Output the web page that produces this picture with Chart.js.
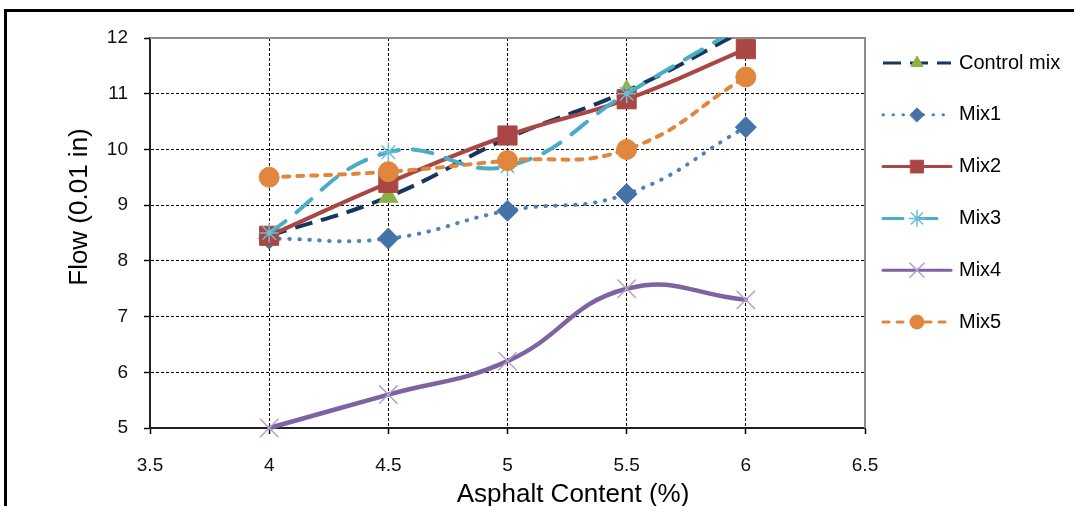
<!DOCTYPE html>
<html><head><meta charset="utf-8">
<script src="https://cdn.jsdelivr.net/npm/chart.js@4.4.1/dist/chart.umd.min.js"></script>
<style>html,body{margin:0;padding:0;background:#fff;}canvas{display:block;}</style>
</head><body>
<canvas id="c" width="1074" height="506"></canvas>
<script>
// ---- data ----
const xValues = [4, 4.5, 5, 5.5, 6];
const xTicks = [3.5, 4, 4.5, 5, 5.5, 6, 6.5];
const xTickLabels = ['3.5', '4', '4.5', '5', '5.5', '6', '6.5'];
const yTicks = [5, 6, 7, 8, 9, 10, 11, 12];
const yTickLabels = ['5', '6', '7', '8', '9', '10', '11', '12'];
const seriesNames = ['Control mix', 'Mix1', 'Mix2', 'Mix3', 'Mix4', 'Mix5'];
const controlMix = [8.45, 9.15, 10.2, 11.05, 12.15];
const mix1 = [8.4, 8.4, 8.9, 9.2, 10.4];
const mix2 = [8.45, 9.4, 10.25, 10.9, 11.8];
const mix3 = [8.5, 9.95, 9.7, 11.0, 12.25];
const mix4 = [5.0, 5.6, 6.2, 7.5, 7.3];
const mix5 = [9.5, 9.6, 9.8, 10.0, 11.3];
const xTitle = 'Asphalt Content (%)';
const yTitle = 'Flow (0.01 in)';

const FONT = '"Liberation Sans", Arial, sans-serif';
const seriesValues = [controlMix, mix1, mix2, mix3, mix4, mix5];

const styles = [
  {line:'#17365D', w:4, dash:[18,9], cap:'butt', ps:'triangle', r:11, fill:'#8DB045', stroke:'#8DB045', bw:1, lr:7},
  {line:'#4F81BD', w:4, dash:[0.5,9.5], cap:'round', ps:'rectRot', r:10.5, fill:'#4572A7', stroke:'#4572A7', bw:1, lr:7},
  {line:'#AA4643', w:4, dash:[], cap:'round', ps:'rect', r:13.5, fill:'#AA4643', stroke:'#AA4643', bw:1, lr:9},
  {line:'#4BACC6', w:4, dash:[20,14], cap:'round', ps:'star', r:9.5, fill:'#4BACC6', stroke:'#6CBFD4', bw:1.5, lr:8},
  {line:'#7E62A1', w:4.5, dash:[], cap:'round', ps:'crossRot', r:13, fill:'#B3A2C7', stroke:'#B3A2C7', bw:1.5, lr:10},
  {line:'#E0873D', w:4, dash:[6,8], cap:'round', ps:'circle', r:10, fill:'#E0873D', stroke:'#E0873D', bw:1, lr:7}
];

const datasets = seriesNames.map((name, i) => {
  const s = styles[i];
  return {
    label: name,
    data: xValues.map((x, k) => ({x: x, y: seriesValues[i][k]})),
    borderColor: s.line,
    borderWidth: s.w,
    borderDash: s.dash,
    borderCapStyle: s.cap,
    tension: 0.45,
    fill: false,
    pointStyle: s.ps,
    pointRadius: s.r,
    pointHoverRadius: s.r,
    pointBackgroundColor: s.fill,
    pointBorderColor: s.stroke,
    pointBorderWidth: s.bw,
    order: 5 - i,
    clip: {left: 40, top: 0, right: 40, bottom: 40}
  };
});

const framePlugin = {
  id: 'frame',
  beforeDraw(chart) {
    const ctx = chart.ctx;
    ctx.save();
    ctx.fillStyle = '#fff';
    ctx.fillRect(0, 0, chart.width, chart.height);
    ctx.fillStyle = '#000';
    ctx.fillRect(4, 9, 3, chart.height - 9);
    ctx.fillRect(4, 9, chart.width - 4, 3);
    ctx.restore();
  },
  beforeDatasetsDraw(chart) {
    const {ctx, chartArea: a} = chart;
    ctx.save();
    ctx.strokeStyle = '#8C8C8C';
    ctx.lineWidth = 2;
    ctx.beginPath();
    ctx.moveTo(a.left, a.top);
    ctx.lineTo(a.right, a.top);
    ctx.lineTo(a.right, a.bottom);
    ctx.stroke();
    ctx.restore();
  },
  afterDraw(chart) {
    const ctx = chart.ctx;
    ctx.save();
    ctx.fillStyle = '#000';
    ctx.font = '26px ' + FONT;
    ctx.textAlign = 'center';
    ctx.textBaseline = 'middle';
    ctx.fillText(xTitle, 573, 495);
    ctx.translate(87, 207);
    ctx.rotate(-Math.PI / 2);
    ctx.textBaseline = 'alphabetic';
    ctx.fillText(yTitle, 0, 0);
    ctx.restore();

    // legend
    const rowY0 = 63, rowStep = 51.8;
    chart.data.datasets.forEach((ds, i) => {
      const s = styles[i];
      const y = rowY0 + i * rowStep;
      ctx.save();
      ctx.strokeStyle = s.line;
      ctx.lineWidth = Math.min(s.w, 3);
      ctx.setLineDash(s.dash);
      ctx.lineCap = s.cap;
      ctx.beginPath();
      ctx.moveTo(883, y);
      ctx.lineTo(951, y);
      ctx.stroke();
      ctx.setLineDash([]);
      ctx.fillStyle = s.fill;
      ctx.strokeStyle = s.stroke;
      ctx.lineWidth = s.bw;
      Chart.helpers.drawPoint(ctx, {pointStyle: s.ps, radius: s.lr, rotation: 0, borderWidth: s.bw}, 917, y);
      ctx.fillStyle = '#000';
      ctx.font = '20px ' + FONT;
      ctx.textAlign = 'left';
      ctx.textBaseline = 'middle';
      ctx.fillText(ds.label, 959, y);
      ctx.restore();
    });
  }
};

new Chart(document.getElementById('c'), {
  type: 'line',
  data: {datasets: datasets},
  options: {
    responsive: false,
    animation: false,
    devicePixelRatio: 1,
    layout: {padding: {top: 38, right: 209, bottom: 0, left: 0}},
    plugins: {legend: {display: false}, tooltip: {enabled: false}, title: {display: false}},
    scales: {
      x: {
        type: 'linear',
        min: 3.5, max: 6.5,
        afterBuildTicks: (scale) => { scale.ticks = xTicks.map(v => ({value: v})); },
        afterFit: (scale) => { scale.height = 78; },
        ticks: {
          color: '#111',
          font: {family: FONT, size: 19},
          padding: 20,
          maxRotation: 0,
          autoSkip: false,
          callback: (v, i) => xTickLabels[i]
        },
        grid: {
          color: (c) => (c.tick && (c.tick.value === 3.5 || c.tick.value === 6.5)) ? 'rgba(0,0,0,0)' : '#000',
          lineWidth: 1,
          tickLength: 6,
          tickColor: '#000',
          tickWidth: 1.5
        },
        border: {display: true, color: '#222', width: 2, dash: [3, 2]}
      },
      y: {
        type: 'linear',
        min: 5, max: 12,
        afterBuildTicks: (scale) => { scale.ticks = yTicks.map(v => ({value: v})); },
        afterFit: (scale) => { scale.width = 150; },
        ticks: {
          color: '#111',
          font: {family: FONT, size: 19},
          padding: 16,
          autoSkip: false,
          callback: (v, i) => yTickLabels[i]
        },
        grid: {
          color: (c) => (c.tick && (c.tick.value === 5 || c.tick.value === 12)) ? 'rgba(0,0,0,0)' : '#000',
          lineWidth: 1,
          tickLength: 6,
          tickColor: '#000',
          tickWidth: 1.5
        },
        border: {display: true, color: '#222', width: 2, dash: [3, 2]}
      }
    }
  },
  plugins: [framePlugin]
});
</script>
</body></html>
